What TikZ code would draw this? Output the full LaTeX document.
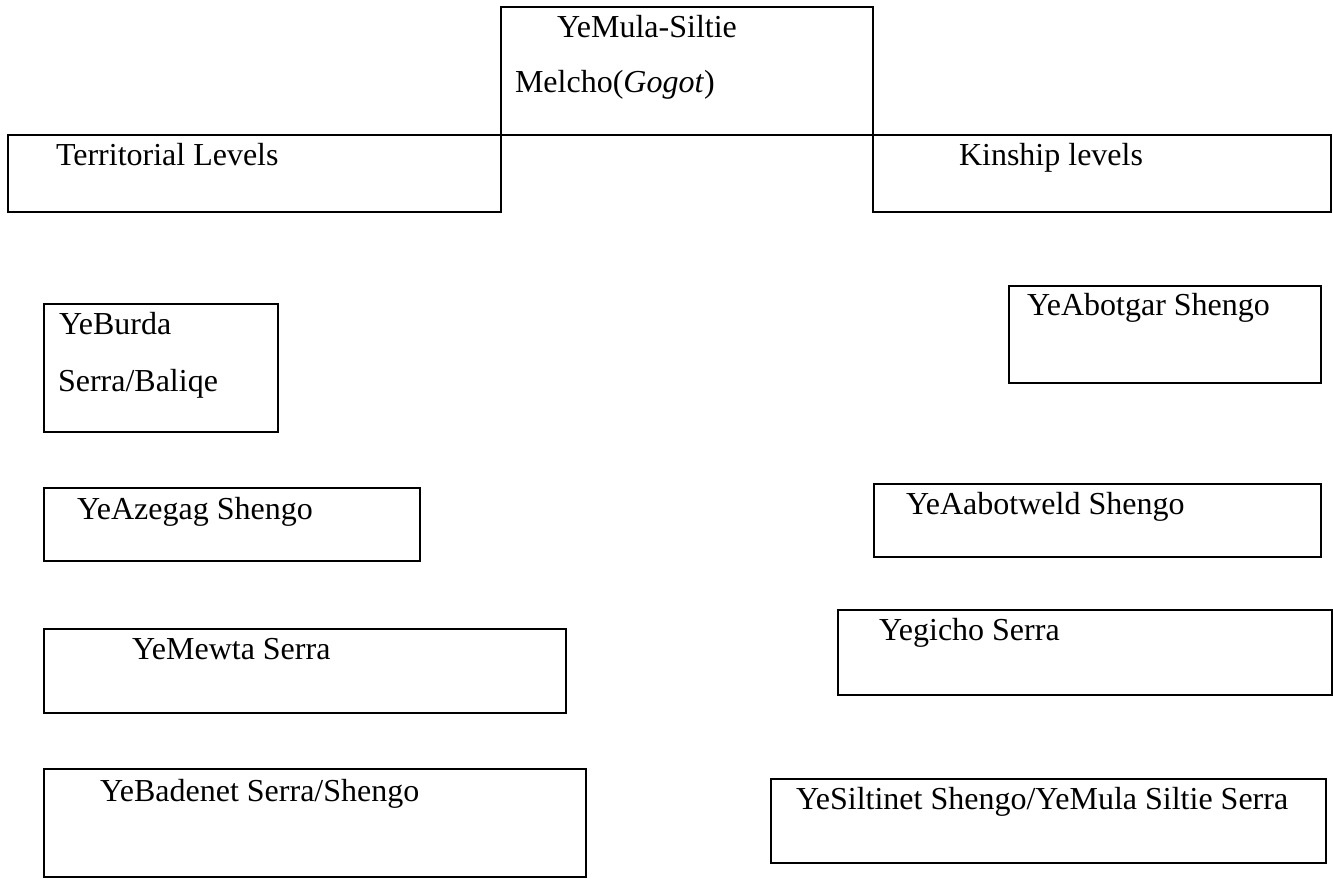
\documentclass[tikz,border=0pt]{standalone}
\usepackage{fontspec}
\setmainfont{Liberation Serif}
\begin{document}
\begin{tikzpicture}[x=1pt,y=-1pt,
  box/.style={draw=black, line width=2.2pt, rectangle, inner sep=0pt, outer sep=0pt, anchor=north west},
  lbl/.style={inner sep=0pt, outer sep=0pt, anchor=base west, font=\fontsize{32}{38}\selectfont}]
\useasboundingbox (0,0) rectangle (1333,878);
% top row
\node[box, minimum width=372pt, minimum height=128pt] (top) at (501,7) {};
\node[box, minimum width=493pt, minimum height=77pt] (terr) at (8,135) {};
\node[box, minimum width=458pt, minimum height=77pt] (kin) at (873,135) {};
\node[lbl] (topA) at (557,37) {YeMula-Siltie};
\node[lbl] (topB) at (515,92) {Melcho(\textit{Gogot})};
\node[lbl] (terrT) at (56,165) {Territorial Levels};
\node[lbl] (kinT) at (959,165) {Kinship levels};
% left column
\node[box, minimum width=234pt, minimum height=128pt] (burda) at (44,304) {};
\node[lbl] (burdaA) at (59,334) {YeBurda};
\node[lbl] (burdaB) at (58,391) {Serra/Baliqe};
\node[box, minimum width=376pt, minimum height=73pt] (azeg) at (44,488) {};
\node[lbl] (azegT) at (77,519) {YeAzegag Shengo};
\node[box, minimum width=522pt, minimum height=84pt] (mewta) at (44,629) {};
\node[lbl] (mewtaT) at (132,659) {YeMewta Serra};
\node[box, minimum width=542pt, minimum height=108pt] (bade) at (44,769) {};
\node[lbl] (badeT) at (100,801) {YeBadenet Serra/Shengo};
% right column
\node[box, minimum width=312pt, minimum height=97pt] (abot) at (1009,286) {};
\node[lbl] (abotT) at (1027,315) {YeAbotgar Shengo};
\node[box, minimum width=447pt, minimum height=73pt] (aabo) at (874,484) {};
\node[lbl] (aaboT) at (906,514) {YeAabotweld Shengo};
\node[box, minimum width=494pt, minimum height=85pt] (gich) at (838,610) {};
\node[lbl] (gichT) at (879,640) {Yegicho Serra};
\node[box, minimum width=555pt, minimum height=84pt] (silt) at (771,779) {};
\node[lbl] (siltT) at (796,809) {YeSiltinet Shengo/YeMula Siltie Serra};
\end{tikzpicture}
\end{document}
